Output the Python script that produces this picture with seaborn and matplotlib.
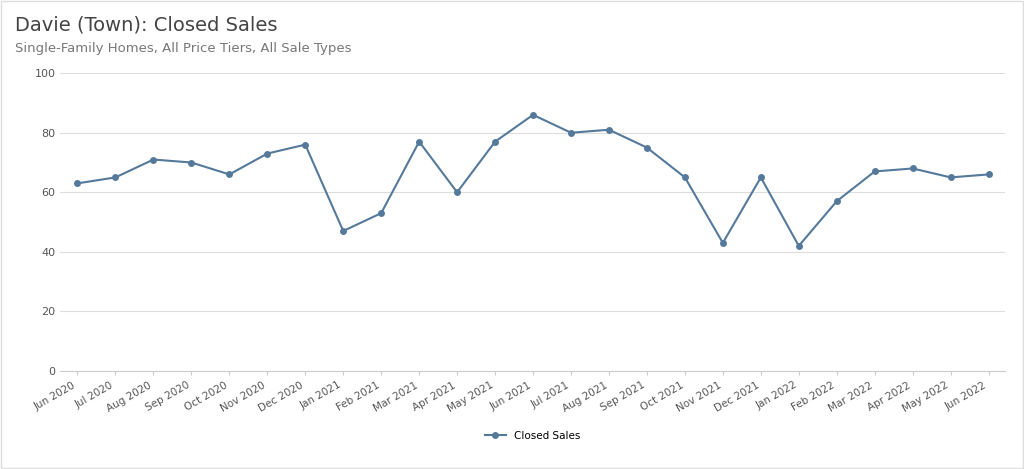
import matplotlib
matplotlib.use("Agg")
import matplotlib.pyplot as plt
import seaborn as sns
import pandas as pd

months = ["Jun 2020","Jul 2020","Aug 2020","Sep 2020","Oct 2020","Nov 2020","Dec 2020",
          "Jan 2021","Feb 2021","Mar 2021","Apr 2021","May 2021","Jun 2021","Jul 2021",
          "Aug 2021","Sep 2021","Oct 2021","Nov 2021","Dec 2021","Jan 2022","Feb 2022",
          "Mar 2022","Apr 2022","May 2022","Jun 2022"]
closed_sales = [63,65,71,70,66,73,76,47,53,77,60,77,86,80,81,75,65,43,65,42,57,67,68,65,66]
yticks = [0,20,40,60,80,100]

df = pd.DataFrame({"x": range(len(months)), "Closed Sales": closed_sales})
color = "#55799a"

fig = plt.figure(figsize=(10.24,4.69), dpi=100)
ax = fig.add_axes([0.059,0.209,0.922,0.635])
sns.lineplot(data=df, x="x", y="Closed Sales", ax=ax, color=color, marker="o",
             markersize=5, markeredgewidth=0, linewidth=1.5, label="Closed Sales")
ax.set_ylim(0,100)
ax.set_xlim(-0.45,24.42)
ax.set_yticks(yticks)
ax.set_xticks(range(len(months)))
ax.set_xticklabels(months, rotation=30, ha="right", fontsize=7.5, color="#555555")
ax.tick_params(axis="y", labelsize=8, colors="#555555", length=0)
ax.tick_params(axis="x", length=3, color="#cccccc")
ax.grid(axis="y", color="#dddddd", linewidth=0.8)
ax.set_axisbelow(True)
for s in ["top","right","left"]:
    ax.spines[s].set_visible(False)
ax.spines["bottom"].set_color("#cccccc")
ax.set_xlabel(""); ax.set_ylabel("")
ax.legend(loc="upper center", bbox_to_anchor=(0.5,-0.17), frameon=False, fontsize=7.5)
fig.text(0.015,0.935,"Davie (Town): Closed Sales", fontsize=14, color="#444444")
fig.text(0.015,0.89,"Single-Family Homes, All Price Tiers, All Sale Types", fontsize=9.5, color="#777777")
fig.patches.append(plt.Rectangle((0.001,0.002),0.998,0.996, transform=fig.transFigure,
                                 fill=False, edgecolor="#dddddd", linewidth=1))
fig.savefig("out.png", dpi=100)
